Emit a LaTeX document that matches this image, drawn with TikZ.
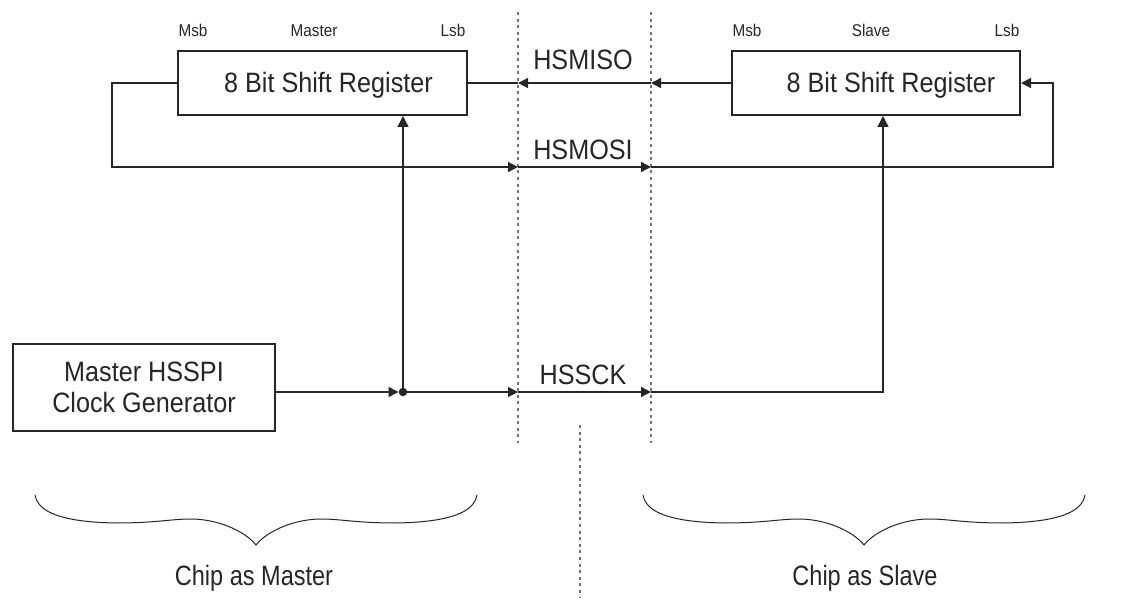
\documentclass[tikz,border=0pt]{standalone}
\usepackage{fontspec}
\setmainfont{Liberation Sans}[FakeStretch=0.9]
\newfontfamily\chipfont{Liberation Sans}[FakeStretch=0.84]
\usetikzlibrary{arrows.meta,calc}
\tikzset{
  chipbrace/.pic={
    \draw[line width=1pt, draw=black!85]
      (-221,0) .. controls (-218,17) and (-195,27) .. (-140,28)
      .. controls (-100,28) and (-85,24) .. (-65,24)
      .. controls (-40,24) and (-12,35) .. (0,50)
      .. controls (12,35) and (40,24) .. (65,24)
      .. controls (85,24) and (100,28) .. (140,28)
      .. controls (195,27) and (218,17) .. (221,0);
  }
}
\begin{document}
\begin{tikzpicture}[x=1pt,y=-1pt,
  wire/.style={line width=1.3pt, draw=black!85},
  tip/.style={wire, -{Triangle[length=10pt,width=10pt]}},
  uptip/.style={wire, -{Triangle[length=11pt,width=11pt]}},
  thickbit/.style={line width=2.4pt, draw=black!85},
  regbox/.style={draw=black!85, line width=2pt, minimum width=289pt, minimum height=64pt,
    inner sep=0pt, text height=20pt, text depth=0pt, text=black!85,
    font=\fontsize{28}{32}\selectfont},
  clkbox/.style={draw=black!85, line width=2pt, minimum width=262pt, minimum height=87pt,
    inner sep=0pt, align=center, text=black!85, font=\fontsize{28}{31.7}\selectfont},
  dotnode/.style={circle, fill=black!85, inner sep=0pt, minimum size=8.5pt},
  dotline/.style={draw=black!55, line width=1.3pt, dash pattern=on 3pt off 3.6pt},
  sig/.style={inner sep=0pt, text=black!85, font=\fontsize{28}{32}\selectfont},
  bitlbl/.style={inner sep=0pt, anchor=base, text=black!85, font=\fontsize{17}{20}\selectfont},
  chiplbl/.style={inner sep=0pt, anchor=base, text=black!85, font=\chipfont\fontsize{28}{32}\selectfont}
]
\useasboundingbox (0,0) rectangle (1138,601);

% separators
\draw[dotline] (518,12) -- (518,443);
\draw[dotline] (651,12) -- (651,443);
\draw[dotline] (580,425) -- (580,597);

% boxes
\node[regbox] (mreg) at (322.5,83) {\hspace*{12pt}8 Bit Shift Register};
\node[regbox, minimum width=288pt] (sreg) at (876,83) {\hspace*{30pt}8 Bit Shift Register};
\node[clkbox] (clk) at (144,387.5) {Master HSSPI\\Clock Generator};
\node[dotnode] (dot) at (403,392) {};

% bit labels
\node[bitlbl] (mmsb) at (193,37) {Msb};
\node[bitlbl] (mname) at (314,37) {Master};
\node[bitlbl] (mlsb) at (453,37) {Lsb};
\node[bitlbl] (smsb) at (747,37) {Msb};
\node[bitlbl] (sname) at (871,37) {Slave};
\node[bitlbl] (slsb) at (1007,37) {Lsb};

% signal labels
\node[sig] (lmiso) at (583,60) {HSMISO};
\node[sig] (lmosi) at (583,150) {HSMOSI};
\node[sig] (lsck) at (583,375) {HSSCK};

% coordinates
\coordinate (misoA) at (651,83);
\coordinate (misoB) at (518,83);
\coordinate (mloopA) at (112,83);
\coordinate (mloopB) at (112,167);
\coordinate (mosiA) at (518,167);
\coordinate (mosiB) at (651,167);
\coordinate (sloopA) at (1053,167);
\coordinate (sloopB) at (1053,83);
\coordinate (sckA) at (518,392);
\coordinate (sckB) at (651,392);
\coordinate (sckC) at (883,392);

% HSMISO
\draw[tip] (sreg.west) -- (misoA);
\draw[tip] (misoA) -- (misoB);
\draw[wire] (misoB) -- (mreg.east);

% HSMOSI loop
\draw[tip] (mreg.west) -- (mloopA) -- (mloopB) -- (mosiA);
\draw[tip] (mosiA) -- (mosiB);
\draw[tip] (mosiB) -- (sloopA) -- (sloopB) -- (sreg.east);

% HSSCK
\draw[tip] (clk.east |- dot) -- (dot);
\draw[uptip] (dot) -- (dot |- mreg.south);
\draw[tip] (dot) -- (sckA);
\draw[tip] (sckA) -- (sckB);
\draw[uptip] (sckB) -- (sckC) -- (sckC |- sreg.south);

% small heavier stroke pieces seen in the drawing
\draw[thickbit] (363,392) -- (391,392);
\draw[thickbit] (433,392) -- (495,392);
\draw[thickbit] (684,167) -- (692,167);

% braces and captions
\pic at (256,495) {chipbrace};
\pic at (864,495) {chipbrace};
\node[chiplbl] (cmaster) at (254,585) {Chip as Master};
\node[chiplbl] (cslave) at (865,585) {Chip as Slave};
\end{tikzpicture}
\end{document}
